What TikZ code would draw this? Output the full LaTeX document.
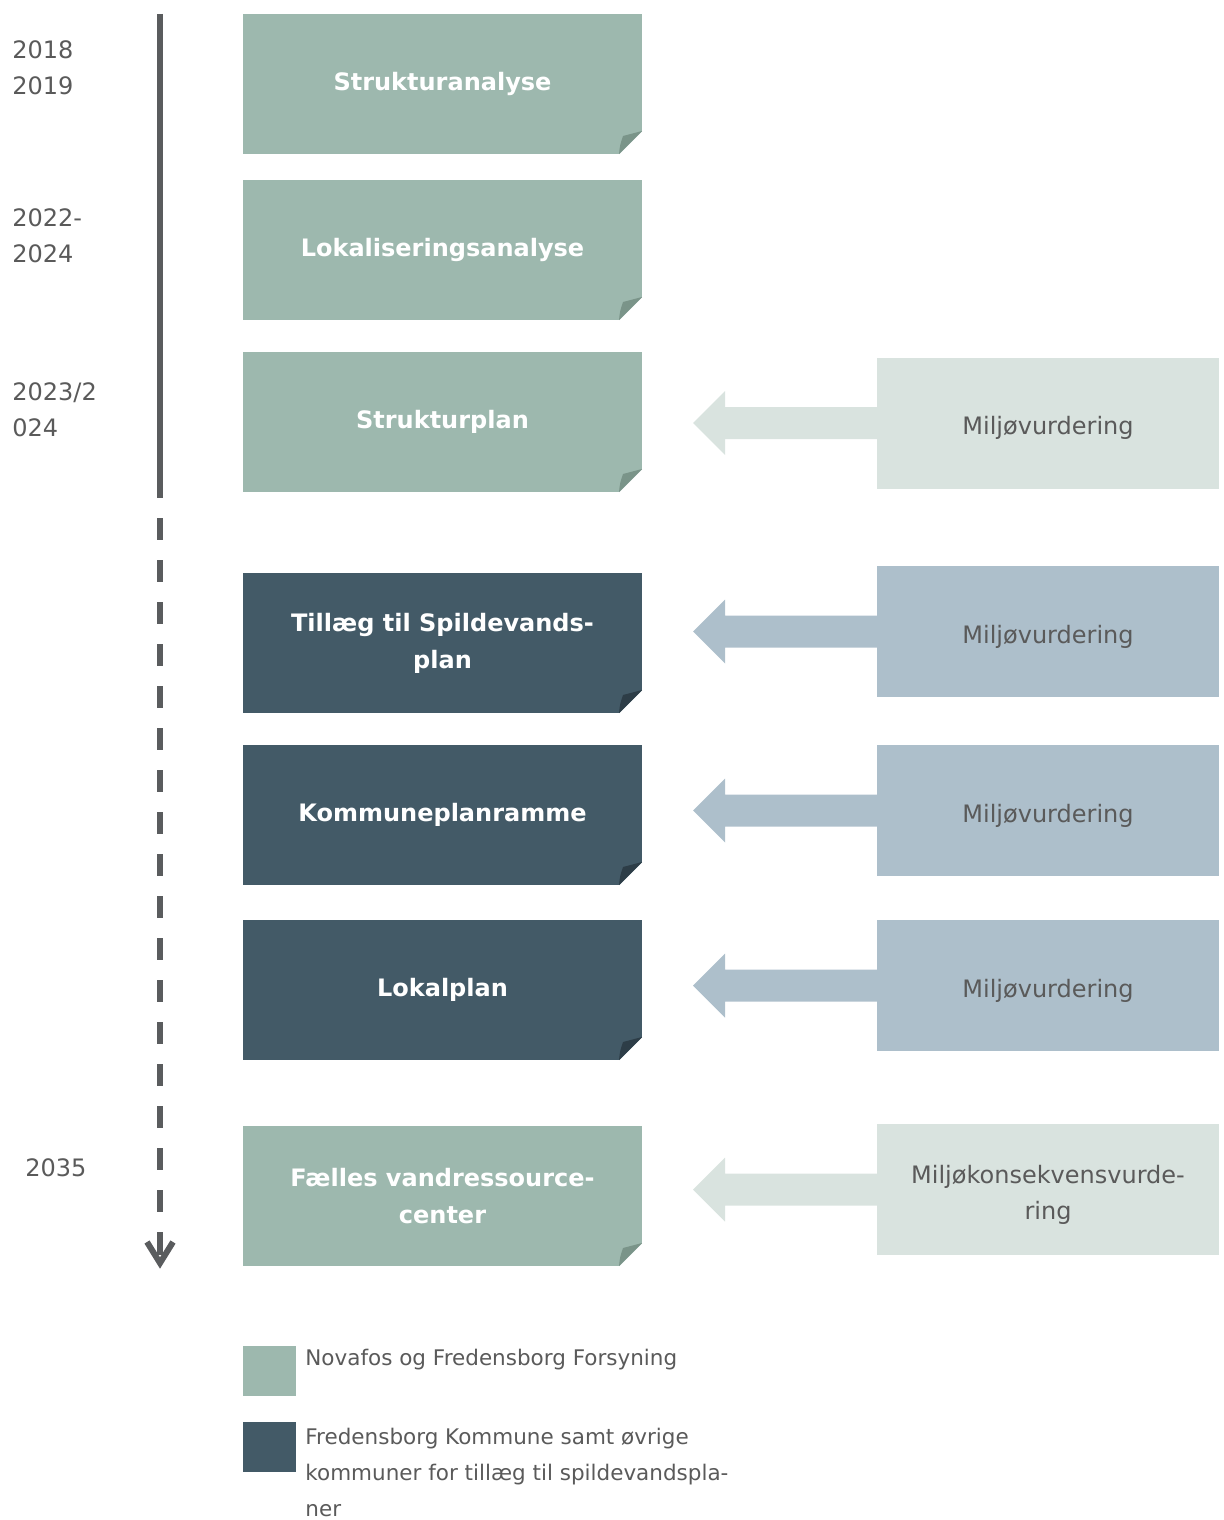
\documentclass[tikz,border=0pt]{standalone}
\usepackage{fontspec}
\setmainfont{DejaVu Sans}
\usetikzlibrary{calc}
\definecolor{sage}{HTML}{9DB8AE}
\definecolor{sagefold}{HTML}{7A9489}
\definecolor{slate}{HTML}{435A67}
\definecolor{slatefold}{HTML}{2D3D47}
\definecolor{palesage}{HTML}{D9E3DF}
\definecolor{paleblue}{HTML}{ADBFCB}
\definecolor{txt}{HTML}{5A5A5A}
\definecolor{tline}{HTML}{5A5C5E}
\begin{document}
\begin{tikzpicture}[x=0.5pt,y=-0.5pt,
  planbox/.style={minimum width=199.5pt, minimum height=70pt, inner sep=0pt, outer sep=0pt,
    text=white, font=\bfseries\fontsize{12}{18.5}\selectfont, align=center},
  greenbox/.style={planbox, fill=sage},
  darkbox/.style={planbox, fill=slate},
  envbox/.style={minimum width=171pt, minimum height=65.5pt, inner sep=0pt, outer sep=0pt},
  envlabel/.style={label={[text=txt, font=\fontsize{12}{18}\selectfont, align=center, yshift=-2.5pt]center:#1}},
  paleenv/.style={envbox, fill=palesage},
  blueenv/.style={envbox, fill=paleblue},
  yeartext/.style={anchor=west, inner sep=0pt, text=txt, font=\fontsize{12}{18}\selectfont, align=left},
  legendtext/.style={anchor=west, inner sep=0pt, text=txt, font=\fontsize{10.75}{18}\selectfont, align=left},
  legendsq/.style={minimum width=26.5pt, minimum height=25pt, inner sep=0pt, outer sep=0pt},
  timeline/.style={draw=tline, line width=3pt}
]
\useasboundingbox (0,0) rectangle (1224,1520);

% planning boxes
\node[greenbox] (b1) at (442.5,84) {Strukturanalyse};
\node[greenbox] (b2) at (442.5,250) {Lokaliseringsanalyse};
\node[greenbox] (b3) at (442.5,422) {Strukturplan};
\node[darkbox]  (b4) at (442.5,643) {Tillæg til Spildevands-\\plan};
\node[darkbox]  (b5) at (442.5,815) {Kommuneplanramme};
\node[darkbox]  (b6) at (442.5,990) {Lokalplan};
\node[greenbox] (b7) at (442.5,1196) {Fælles vandressource-\\center};

% folded corners
\foreach \b/\fc in {b1/sagefold,b2/sagefold,b3/sagefold,b4/slatefold,b5/slatefold,b6/slatefold,b7/sagefold}{
  \fill[white] ($(\b.south east)+(0.5,-23)$) -- ($(\b.south east)+(0.5,0.5)$) -- ($(\b.south east)+(-23,0.5)$) -- cycle;
  \fill[\fc] ($(\b.south east)+(-23,0)$) -- ($(\b.south east)+(0,-23)$) -- ($(\b.south east)+(-19,-18)$)
    .. controls ($(\b.south east)+(-22,-9)$) .. cycle;
}

% environmental assessment boxes
\node[paleenv, envlabel={Miljøvurdering}] (e3) at (1048,423) {};
\node[blueenv, envlabel={Miljøvurdering}] (e4) at (1048,631.5) {};
\node[blueenv, envlabel={Miljøvurdering}] (e5) at (1048,810.5) {};
\node[blueenv, envlabel={Miljøvurdering}] (e6) at (1048,985.5) {};
\node[paleenv, envlabel={Miljøkonsekvensvurde-\\ring}] (e7) at (1048,1189.5) {};

% block arrows
\foreach \e/\c in {e3/palesage,e4/paleblue,e5/paleblue,e6/paleblue,e7/palesage}{
  \fill[\c] ($(\e.west)+(0.5,-16)$) -- ++(-152.5,0) -- ++(0,-16) -- ++(-32,32) -- ++(32,32)
    -- ++(0,-16) -- ++(152.5,0) -- cycle;
}

% timeline
\coordinate (t0) at (160,14);
\coordinate (t1) at (160,498);
\coordinate (t2) at (160,518);
\coordinate (t3) at (160,1254);
\coordinate (tip) at (160,1263);
\coordinate (wl) at (147,1242);
\coordinate (wr) at (173,1242);
\draw[timeline] (t0) -- (t1);
\draw[timeline, dash pattern=on 11pt off 10pt] (t2) -- (t3);
\draw[timeline, line join=miter, miter limit=10] (wl) -- (tip) -- (wr);
\draw[timeline] ($(tip)+(0,-8)$) -- ($(tip)+(0,-30)$);

% years
\node[yeartext] (y1) at (12,68) {2018\\2019};
\node[yeartext] (y2) at (12,236) {2022-\\2024};
\node[yeartext] (y3) at (12,410) {2023/2\\024};
\node[yeartext] (y4) at (25,1168) {2035};

% legend
\node[legendsq, fill=sage] (l1) at (269.5,1371) {};
\node[legendsq, fill=slate] (l2) at (269.5,1447) {};
\node[legendtext] (lt1) at (305,1360) {Novafos og Fredensborg Forsyning};
\node[legendtext] (lt2) at (305,1472) {Fredensborg Kommune samt øvrige\\kommuner for tillæg til spildevandspla-\\ner};
\end{tikzpicture}
\end{document}
